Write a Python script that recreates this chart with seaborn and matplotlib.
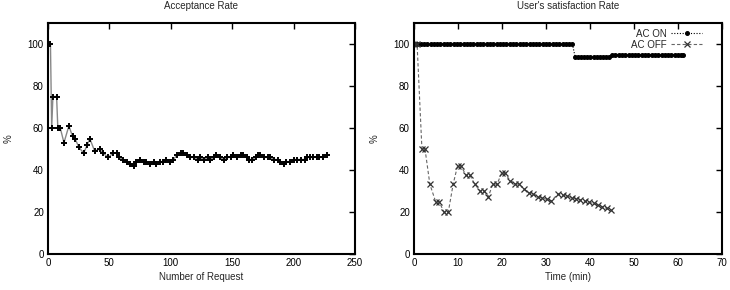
import matplotlib
matplotlib.use("Agg")
import matplotlib.pyplot as plt
import seaborn as sns
import pandas as pd

# ---------------- data ----------------
req_x = [0, 2, 3, 4, 7, 8, 10, 13, 17, 20, 22, 25, 29, 32, 34, 38, 42, 45, 49, 53,
         56, 58, 61, 64, 67, 70, 72, 75, 78, 80, 83, 86, 88, 91, 94, 96, 99, 102,
         105, 108, 110, 113, 116, 119, 122, 124, 127, 130, 132, 135, 137, 140, 143,
         146, 149, 151, 154, 157, 159, 162, 164, 166, 169, 171, 173, 176, 179, 181,
         184, 187, 189, 192, 194, 197, 200, 203, 206, 209, 211, 213, 216, 219, 221,
         224, 227]
req_y = [100, 100, 60, 75, 75, 60, 60, 53, 61, 56, 55, 51, 48, 52, 55, 49, 50, 48, 46, 48,
         48, 46, 45, 44, 43, 42, 44, 45, 44, 44, 43, 44, 43, 44, 44, 45, 44, 45,
         47, 48, 48, 47, 46, 46, 45, 46, 45, 46, 45, 46, 47, 46, 45,
         46, 46, 47, 46, 47, 47, 46, 45, 45, 46, 47, 47, 46, 46, 46,
         45, 45, 44, 43, 44, 44, 45, 45, 45, 45, 46, 46, 46, 46, 46,
         46, 47]

on_t = [0, 0.75, 1.5, 2.25, 3, 3.75, 4.5, 5.25, 6, 6.75, 7.5, 8.25, 9, 9.75, 10.5,
        11.25, 12, 12.75, 13.5, 14.25, 15, 15.75, 16.5, 17.25, 18, 18.75, 19.5,
        20.25, 21, 21.75, 22.5, 23.25, 24, 24.75, 25.5, 26.25, 27, 27.75, 28.5,
        29.25, 30, 30.75, 31.5, 32.25, 33, 33.75, 34.5, 35.25, 36,
        36.6, 37.3, 38, 38.7, 39.4, 40.1, 40.8, 41.5, 42.2, 42.9, 43.6, 44.3,
        45, 45.75, 46.5, 47.25, 48, 48.75, 49.5, 50.25, 51, 51.75, 52.5, 53.25,
        54, 54.75, 55.5, 56.25, 57, 57.75, 58.5, 59.25, 60, 60.75, 61.2]
on_v = [100] * 49 + [94] * 12 + [95] * 23

off_t = [0, 0.7, 1.8, 2.5, 3.6, 4.9, 5.7, 6.8, 7.8, 8.9, 9.9, 10.7, 11.8, 12.7, 13.8,
         15.0, 15.9, 16.9, 17.9, 18.9, 19.9, 20.7, 21.8, 23.0, 23.9, 25.0, 26.2,
         27.1, 28.1, 29.1, 30.2, 31.2, 32.7, 33.8, 34.8, 35.8, 36.8, 37.8, 38.8,
         39.8, 40.8, 41.8, 42.8, 43.8, 44.8]
off_v = [100, 100, 50, 50, 33.3, 25, 25, 20, 20, 33.3, 42, 42, 37.5, 37.5, 33.3,
         30, 30, 27.3, 33.3, 33.3, 38.5, 38.5, 35, 33.3, 33.3, 31, 29, 28.6,
         27.3, 26.7, 26, 25.2, 28.6, 28, 27.5, 26.9, 26.3, 25.7, 25.2,
         24.6, 24.1, 23.3, 22.5, 21.7, 21]

x_ticks_left = [0, 50, 100, 150, 200, 250]
x_ticks_right = [0, 10, 20, 30, 40, 50, 60, 70]
y_ticks = [0, 20, 40, 60, 80, 100]

# ---------------- style ----------------
sns.set_style("white")
plt.rcParams["font.family"] = ["Liberation Sans", "DejaVu Sans"]
plt.rcParams["font.size"] = 7

fig = plt.figure(figsize=(7.3, 2.9), dpi=100)
ax1 = fig.add_axes([48 / 730, 36 / 290, 307 / 730, 231 / 290])
ax2 = fig.add_axes([414 / 730, 36 / 290, 308 / 730, 231 / 290])

df1 = pd.DataFrame({"req": req_x, "rate": req_y})
sns.lineplot(data=df1, x="req", y="rate", ax=ax1, estimator=None, sort=False,
             color="#888888", linewidth=1.0)
sns.scatterplot(data=df1, x="req", y="rate", ax=ax1, marker="+", color="black",
                s=24, linewidth=1.4, zorder=3)

df_on = pd.DataFrame({"t": on_t, "v": on_v})
df_off = pd.DataFrame({"t": off_t, "v": off_v})
sns.lineplot(data=df_on, x="t", y="v", ax=ax2, estimator=None, sort=False,
             color="black", linestyle=(0, (1, 1.5)), linewidth=0.8,
             marker="o", markersize=2.8, markeredgecolor="black",
             markerfacecolor="black", label="AC ON")
sns.lineplot(data=df_off, x="t", y="v", ax=ax2, estimator=None, sort=False,
             color="#666666", linestyle=(0, (3, 2)), linewidth=0.8,
             marker="x", markersize=4.0, markeredgewidth=0.9,
             markeredgecolor="#333333", label="AC OFF")

for ax in (ax1, ax2):
    ax.set_ylim(0, 110)
    ax.set_yticks(y_ticks)
    ax.tick_params(direction="in", length=4, width=1, top=True, right=True,
                   labelsize=7, pad=3, colors="black")
    for s in ax.spines.values():
        s.set_linewidth(1.5)
        s.set_color("black")
    ax.set_ylabel("%", fontsize=7, labelpad=10)
    ax.grid(False)

ax1.set_xlim(0, 250)
ax1.set_xticks(x_ticks_left)
ax1.set_xlabel("Number of Request", fontsize=7, labelpad=3)
ax1.set_title("Acceptance Rate", fontsize=7, pad=10)

ax2.set_xlim(0, 70)
ax2.set_xticks(x_ticks_right)
ax2.set_xlabel("Time (min)", fontsize=7, labelpad=3)
ax2.set_title("User's satisfaction Rate", fontsize=7, pad=10)

leg = ax2.legend(loc="upper right", bbox_to_anchor=(0.955, 1.0), frameon=False,
                 markerfirst=False, fontsize=7, handlelength=3.2,
                 handletextpad=0.5, labelspacing=0.1, borderaxespad=0.2)

fig.savefig("out.png", dpi=100)
